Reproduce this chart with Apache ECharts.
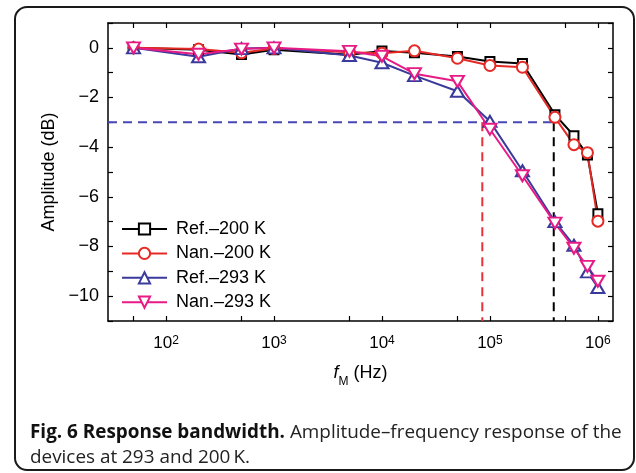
<!DOCTYPE html>
<html><head><meta charset="utf-8">
<script src="https://cdn.jsdelivr.net/npm/echarts@6/dist/echarts.min.js"></script>
<style>html,body{margin:0;padding:0;background:#fff}#c{width:636px;height:473px}</style>
</head><body><div id="c"></div>
<script>
// ---- data ----
const freqs = [50, 200, 500, 1000, 5000, 1e4, 2e4, 5e4, 1e5, 2e5, 4e5, 6e5, 8e5, 1e6];
const ref200 = [0, -0.08, -0.27, -0.08, -0.28, -0.13, -0.2, -0.35, -0.55, -0.63, -2.69, -3.54, -4.32, -6.68];
const nan200 = [0, -0.05, -0.2, -0.03, -0.18, -0.22, -0.12, -0.42, -0.71, -0.78, -2.8, -3.9, -4.22, -6.98];
const ref293 = [0, -0.36, -0.03, 0, -0.31, -0.6, -1.12, -1.75, -2.96, -4.95, -7.0, -7.95, -9.02, -9.65];
const nan293 = [0, -0.26, -0.05, 0, -0.14, -0.34, -1.04, -1.35, -3.28, -5.15, -7.06, -8.07, -8.8, -9.4];
const seriesNames = ['Ref.–200 K', 'Nan.–200 K', 'Ref.–293 K', 'Nan.–293 K'];
const xTickValues = [50, 100, 500, 1000, 5000, 1e4, 5e4, 1e5, 5e5, 1e6];
const xLabelValues = [100, 1000, 1e4, 1e5, 1e6];
const xRange = [29, 1.38e6];
const yRange = [-11, 1];
const level3dB = -3;
const cutoffNan = 8.5e4;
const cutoffRef = 3.9e5;

const pairs = ys => freqs.map((f, i) => [f, ys[i]]);
const chart = echarts.init(document.getElementById('c'));
const FONT = 'Liberation Sans';
const minus = v => String(v).replace('-', '\u2212');

const baseX = {
  type: 'log', min: xRange[0], max: xRange[1],
  axisLine: { onZero: false, lineStyle: { color: '#000', width: 1.5 } },
  axisTick: { inside: true, length: 5, customValues: xTickValues, lineStyle: { color: '#000', width: 1.2 } },
  splitLine: { show: false }, minorTick: { show: false }
};
const baseY = {
  type: 'value', min: yRange[0], max: yRange[1], interval: 1,
  axisLine: { show: true, onZero: false, lineStyle: { color: '#000', width: 1.5 } },
  axisTick: { show: true, inside: true, length: 5, lineStyle: { color: '#000', width: 1.2 } },
  splitLine: { show: false }
};
const mk = (name, ys, color, symbol, size, rot) => ({
  name, type: 'line', data: pairs(ys), z: 3,
  symbol, symbolSize: size, symbolRotate: rot || 0,
  lineStyle: { color, width: 2 },
  itemStyle: { color: '#fff', borderColor: color, borderWidth: 2 },
  emphasis: { disabled: true }, animation: false
});
const dashed = (data, color) => ({
  type: 'line', data, symbol: 'none', z: 1, silent: true, animation: false,
  lineStyle: { color, width: 2, type: [9, 6] }
});

chart.setOption({
  animation: false,
  grid: { left: 108, right: 23, top: 23, bottom: 152 },
  legend: {
    data: seriesNames, orient: 'vertical', left: 116, top: 215,
    itemWidth: 45, itemHeight: 14, itemGap: 6.4,
    textStyle: { fontFamily: FONT, fontSize: 18, color: '#000', padding: [0, 0, 0, 4] }
  },
  xAxis: [
    Object.assign({}, baseX, {
      position: 'bottom',
      axisLabel: {
        customValues: xLabelValues, margin: 14,
        formatter: v => '{n|10}{p|' + Math.round(Math.log10(v)) + '}',
        rich: {
          n: { fontFamily: FONT, fontSize: 17, color: '#000' },
          p: { fontFamily: FONT, fontSize: 12, color: '#000', verticalAlign: 'top', padding: [0, 0, 3, 0] }
        }
      },
      name: '{i|f}{s|M} (Hz)', nameLocation: 'middle', nameGap: 43,
      nameTextStyle: {
        fontFamily: FONT, fontSize: 18, color: '#000',
        rich: {
          i: { fontFamily: FONT, fontSize: 18, fontStyle: 'italic', color: '#000' },
          s: { fontFamily: FONT, fontSize: 12, color: '#000', verticalAlign: 'bottom', padding: [0, 0, -6, 0] }
        }
      }
    }),
    Object.assign({}, baseX, { position: 'top', axisLabel: { show: false } })
  ],
  yAxis: [
    Object.assign({}, baseY, {
      position: 'left',
      axisLabel: {
        fontFamily: FONT, fontSize: 18, color: '#000', margin: 9,
        formatter: v => (v % 2 === 0 ? minus(v) : '')
      },
      name: 'Amplitude (dB)', nameLocation: 'middle', nameGap: 49,
      nameTextStyle: { fontFamily: FONT, fontSize: 18, color: '#000' }
    }),
    Object.assign({}, baseY, { position: 'right', axisLabel: { show: false } })
  ],
  series: [
    dashed([[xRange[0], level3dB], [cutoffRef, level3dB]], '#4747b5'),
    dashed([[cutoffNan, level3dB], [cutoffNan, yRange[0]]], '#e8323a'),
    dashed([[cutoffRef, level3dB], [cutoffRef, yRange[0]]], '#000'),
    mk(seriesNames[0], ref200, '#000000', 'rect', 9),
    mk(seriesNames[1], nan200, '#e52a26', 'circle', 11),
    mk(seriesNames[2], ref293, '#3a3a9c', 'triangle', [13, 11]),
    mk(seriesNames[3], nan293, '#e61b85', 'triangle', [13, 11], 180)
  ],
  graphic: [
    { type: 'rect', shape: { x: 15, y: 7, width: 619, height: 463, r: 12 },
      style: { fill: 'none', stroke: '#1a1a1a', lineWidth: 2 }, z: 10 },
    { type: 'text', left: 30, top: 420,
      style: {
        text: '{b|Fig. 6 Response bandwidth.} Amplitude–frequency response of the\ndevices at 293 and 200\u2009K.',
        fontFamily: 'Open Sans', fontSize: 18.9, lineHeight: 25, fill: '#222',
        rich: { b: { fontFamily: 'Open Sans', fontWeight: 'bold', fontSize: 18.9, fill: '#111' } }
      } }
  ]
});
</script></body></html>
